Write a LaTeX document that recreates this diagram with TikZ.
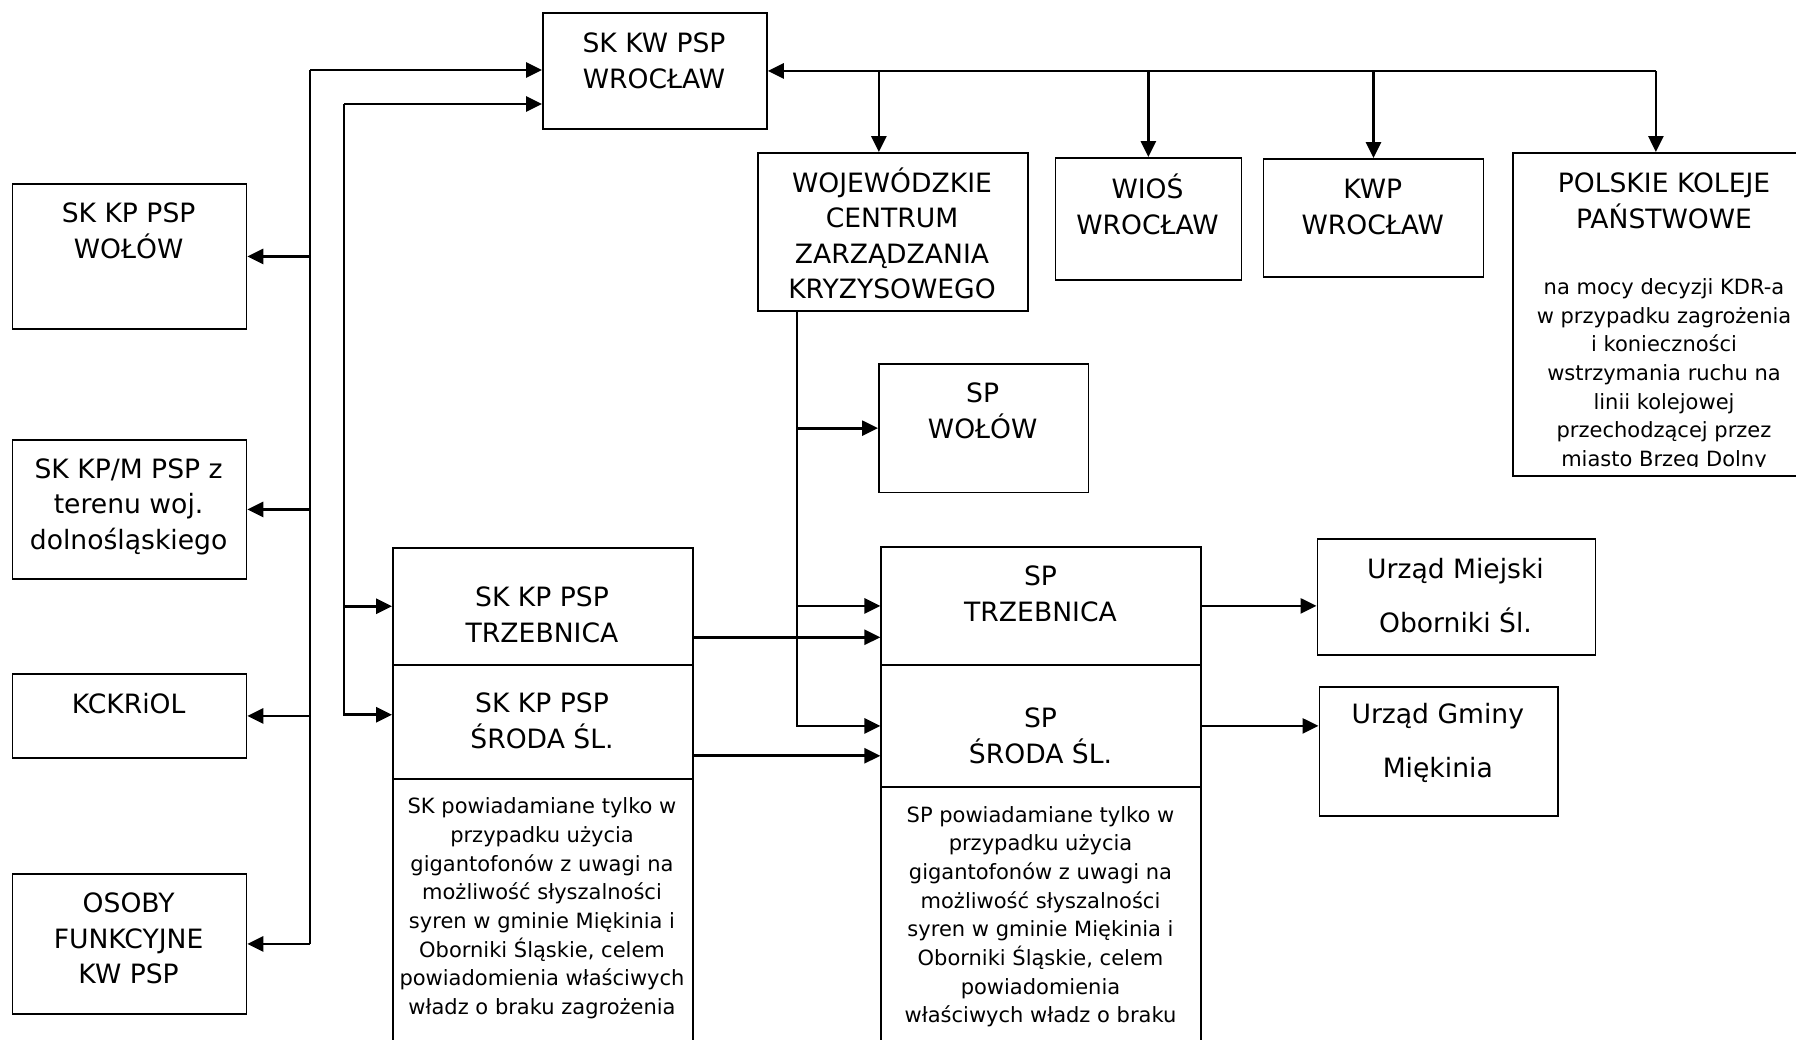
\documentclass[tikz,border=0pt]{standalone}
\usepackage{fontspec}
\setmainfont{DejaVu Sans}
\usetikzlibrary{arrows.meta, calc}

\newcommand{\bigfnt}{\fontsize{13.3}{17.8}\selectfont}
\newcommand{\smallfnt}{\fontsize{10.5}{14.35}\selectfont}
\newcommand{\widefnt}{\fontsize{13.3}{26.8}\selectfont}

\begin{document}
\begin{tikzpicture}[x=0.5pt, y=-0.5pt,
		box/.style={draw, line width=0.9pt, inner sep=0pt, anchor=north west},
		txt/.style={inner sep=0pt, align=center, anchor=north, font=\bigfnt},
		note/.style={txt, font=\smallfnt},
		conn/.style={line width=1.4pt},
		arr/.style={conn, -{Triangle[length=8pt, width=7.5pt]}}]
			\useasboundingbox (0,0) rectangle (1796,1040);
			\node[box, minimum width=112pt, minimum height=58pt] (kw) at (542,12) {};
			\node[box, minimum width=117pt, minimum height=72.5pt] (wolow) at (11.5,183) {};
			\node[box, minimum width=117pt, minimum height=69.5pt] (kpm) at (11.5,439) {};
			\node[box, minimum width=117pt, minimum height=42pt] (kck) at (11.5,673) {};
			\node[box, minimum width=117pt, minimum height=70pt] (osoby) at (11.5,873) {};
			\node[box, minimum width=135pt, minimum height=79pt] (woj) at (757,152) {};
			\node[box, minimum width=93pt, minimum height=61pt] (wios) at (1054.5,157) {};
			\node[box, minimum width=110pt, minimum height=59pt] (kwp) at (1262.6,158) {};
			\node[box, minimum width=152pt, minimum height=161.5pt] (pkp) at (1512,152) {};
			\node[box, minimum width=104.75pt, minimum height=64.25pt] (spw) at (878,363) {};
			\node[box, minimum width=150pt, minimum height=58.65pt] (sktrz) at (392,546.7) {};
			\node[box, minimum width=150pt, minimum height=56.85pt] (sksro) at (392,664) {};
			\node[box, minimum width=150pt, minimum height=150pt] (sknote) at (392,777.7) {};
			\node[box, minimum width=160pt, minimum height=59pt] (sptrz) at (880.4,546) {};
			\node[box, minimum width=160pt, minimum height=61pt] (spsro) at (880.4,664) {};
			\node[box, minimum width=160pt, minimum height=150pt] (spnote) at (880.4,786) {};
			\node[box, minimum width=139pt, minimum height=58pt] (umo) at (1316.5,538.3) {};
			\node[box, minimum width=119.25pt, minimum height=64.5pt] (ugm) at (1318.5,685.7) {};

			\node[txt] (kwt) at (654,32.3) {SK KW PSP\\WROCŁAW};
			\node[txt] (wolowt) at (128.6,202.3) {SK KP PSP\\WOŁÓW};
			\node[txt] (kpmt) at (128.6,458) {SK KP/M PSP z\\terenu woj.\\dolnośląskiego};
			\node[txt] (kckt) at (128.6,692.5) {KCKRiOL};
			\node[txt] (osobyt) at (128.6,892.3) {OSOBY\\FUNKCYJNE\\KW PSP};
			\node[txt] (wojt) at (892,167) {WOJEWÓDZKIE\\CENTRUM\\ZARZĄDZANIA\\KRYZYSOWEGO};
			\node[txt] (wiost) at (1147.5,173.5) {WIOŚ\\WROCŁAW};
			\node[txt] (kwpt) at (1372.7,179) {KWP\\WROCŁAW};
			\node[txt] (pkpt) at (1664,172.3) {POLSKIE KOLEJE\\PAŃSTWOWE};
			\begin{scope}
				\clip (1512,152) rectangle (1816,466);
				\node[note] (pkpn) at (1664,278) {na mocy decyzji KDR-a\\w przypadku zagrożenia\\i konieczności\\wstrzymania ruchu na\\linii kolejowej\\przechodzącej przez\\miasto Brzeg Dolny};
			\end{scope}
			\node[txt] (spwt) at (982.7,382.3) {SP\\WOŁÓW};
			\node[txt] (sktrzt) at (542,586.6) {SK KP PSP\\TRZEBNICA};
			\node[txt] (sksrot) at (542,692.3) {SK KP PSP\\ŚRODA ŚL.};
			\node[note] (sknotet) at (542,797.3) {SK powiadamiane tylko w\\przypadku użycia\\gigantofonów z uwagi na\\możliwość słyszalności\\syren w gminie Miękinia i\\Oborniki Śląskie, celem\\powiadomienia właściwych\\władz o braku zagrożenia};
			\node[txt] (sptrzt) at (1040.5,565.6) {SP\\TRZEBNICA};
			\node[txt] (spsrot) at (1040.5,707.3) {SP\\ŚRODA ŚL.};
			\node[note] (spnotet) at (1040.5,805.7) {SP powiadamiane tylko w\\przypadku użycia\\gigantofonów z uwagi na\\możliwość słyszalności\\syren w gminie Miękinia i\\Oborniki Śląskie, celem\\powiadomienia\\właściwych władz o braku};
			\node[txt, font=\widefnt] (umot) at (1455.5,557.8) {Urząd Miejski\\Oborniki Śl.};
			\node[txt, font=\widefnt] (ugmt) at (1437.8,703) {Urząd Gminy\\Miękinia};

			\coordinate (lb1) at (310,70);
			\coordinate (lb2) at (344,104);
			\coordinate (sksroin) at ([yshift=3.5pt]sksro.west);
			\draw[arr] (lb1) -- (lb1 -| kw.west);
			\draw[arr] (lb2) -- (lb2 -| kw.west);
			\draw[conn] (lb1) -- (lb1 |- osoby.east);
			\draw[arr] (lb1 |- wolow.east) -- (wolow.east);
			\draw[arr] (lb1 |- kpm.east) -- (kpm.east);
			\draw[arr] (lb1 |- kck.east) -- (kck.east);
			\draw[arr] (lb1 |- osoby.east) -- (osoby.east);
			\draw[arr] (lb2) |- (sksroin);
			\draw[arr] (lb2 |- sktrz.west) -- (sktrz.west);

			\coordinate (pkpin) at ([xshift=-4.5pt]pkp.north);
			\coordinate (wojin) at ([xshift=-7pt]woj.north);
			\coordinate (tr) at (pkpin |- kw.east);
			\draw[arr] (tr) -- (kw.east);
			\draw[arr] (tr) -- (pkpin);
			\draw[arr] (wojin |- tr) -- (wojin);
			\draw[arr] (wios.north |- tr) -- (wios.north);
			\draw[arr] (kwp.north |- tr) -- (kwp.north);

			\coordinate (wd) at ([xshift=20pt]woj.south west);
			\draw[arr] (wd) |- (spsro.west);
			\draw[arr] (wd |- spw.west) -- (spw.west);
			\draw[arr] (wd |- sptrz.west) -- (sptrz.west);

			\coordinate (sktrzout) at ([yshift=-15.5pt]sktrz.east);
			\coordinate (sksroout) at ([yshift=-17pt]sksro.east);
			\draw[arr] (sktrzout) -- (sktrzout -| sptrz.west);
			\draw[arr] (sksroout) -- (sksroout -| spsro.west);
			\draw[arr] (sptrz.east) -- (sptrz.east -| umo.west);
			\draw[arr] (spsro.east) -- (spsro.east -| ugm.west);
		\end{tikzpicture}
\end{document}
